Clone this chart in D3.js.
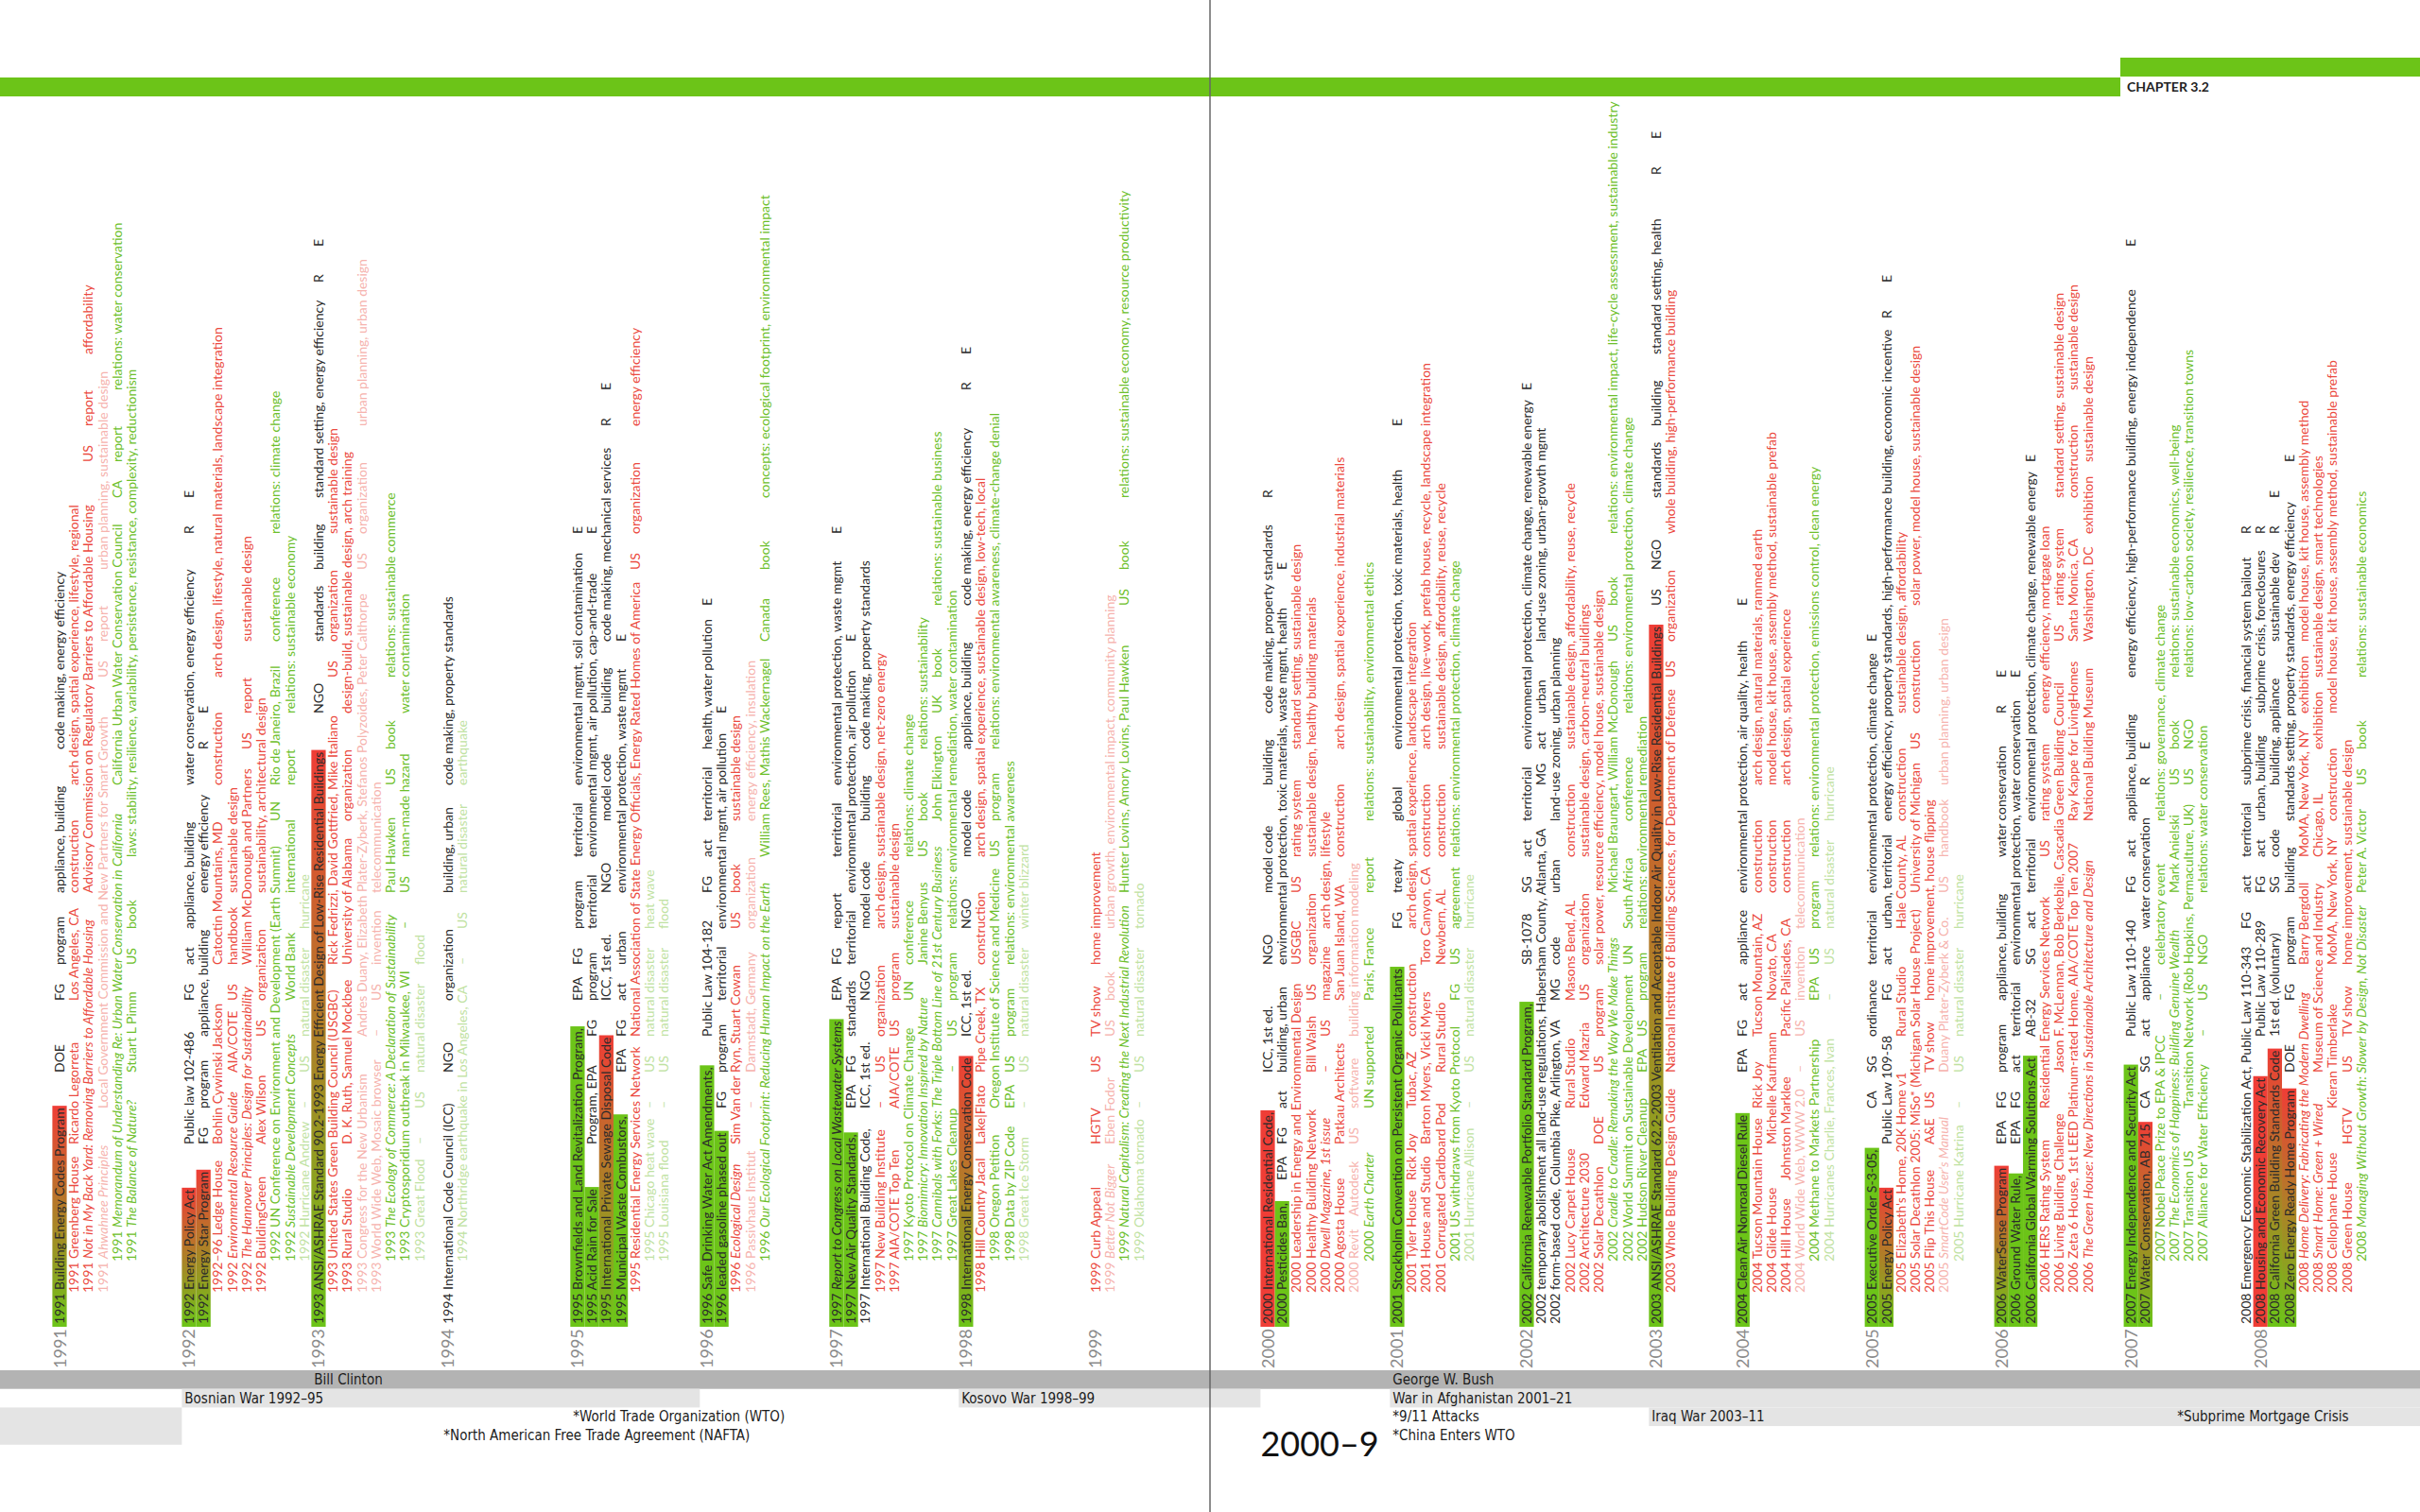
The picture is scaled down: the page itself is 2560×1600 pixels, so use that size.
<!DOCTYPE html>
<html>
<head>
<meta charset="utf-8">
<script src="https://cdn.jsdelivr.net/npm/d3@7"></script>
<style>
  html, body { margin: 0; padding: 0; background: #fff; }
  svg { display: block; }
</style>
</head>
<body>
<div id="chart"></div>
<script>
// ---- data ----
// row code: k = policy (black), r = project (red), p = minor project (pink),
// g = publication/event (green), lg = disaster (light green); bG/bR/bGR = highlighted policy
const y1991 = [
  ["bGR", "1991 Building Energy Codes Program~DOE~FG~program~appliance, building~code making, energy efficiency"],
  ["r", "1991 Greenberg House~Ricardo Legorreta~Los Angeles, CA~construction~arch design, spatial experience, lifestyle, regional"],
  ["r", "1991 Not in My Back Yard: Removing Barriers to Affordable Housing~Advisory Commission on Regulatory Barriers to Affordable Housing~US~report~affordability"],
  ["p", "1991 Ahwahnee Principles~Local Government Commission and New Partners for Smart Growth~US~report~urban planning, sustainable design"],
  ["g", "1991 Memorandum of Understanding Re: Urban Water Conservation in California~California Urban Water Conservation Council~CA~report~relations: water conservation"],
  ["g", "1991 The Balance of Nature?~Stuart L Pimm~US~book~laws: stability, resilience, variability, persistence, resistance, complexity, reductionism"]
];
const y1992 = [
  ["bGR", "1992 Energy Policy Act~Public law 102-486~FG~act~appliance, building~water conservation, energy efficiency~R~E"],
  ["bGR", "1992 Energy Star Program~FG~program~appliance, building~energy efficiency~R~E"],
  ["r", "1992–96 Ledge House~Bohlin Cywinski Jackson~Catoctin Mountains, MD~construction~arch design, lifestyle, natural materials, landscape integration"],
  ["r", "1992 Environmental Resource Guide~AIA/COTE~US~handbook~sustainable design"],
  ["r", "1992 The Hannover Principles: Design for Sustainability~William McDonough and Partners~US~report~sustainable design"],
  ["r", "1992 BuildingGreen~Alex Wilson~US~organization~sustainability, architectural design"],
  ["g", "1992 UN Conference on Environment and Development (Earth Summit)~UN~Rio de Janeiro, Brazil~conference~relations: climate change"],
  ["g", "1992 Sustainable Development Concepts~World Bank~international~report~relations: sustainable economy"],
  ["lg", "1992 Hurricane Andrew~–~US~natural disaster~hurricane"]
];
const y1993 = [
  ["bGR", "1993 ANSI/ASHRAE Standard 90.2-1993 Energy Efficient Design of Low-Rise Residential Buildings~NGO~standards~building~standard setting, energy efficiency~R~E"],
  ["r", "1993 United States Green Building Council (USGBC)~Rick Fedrizzi, David Gottfried, Mike Italiano~US~organization~sustainable design"],
  ["r", "1993 Rural Studio~D. K. Ruth, Samuel Mockbee~University of Alabama~organization~design-build, sustainable design, arch training"],
  ["p", "1993 Congress for the New Urbanism~Andres Duany, Elizabeth Plater-Zyberk, Stefanos Polyzoides, Peter Calthorpe~US~organization~urban planning, urban design"],
  ["p", "1993 World Wide Web, Mosaic browser~–~US~invention~telecommunication"],
  ["g", "1993 The Ecology of Commerce: A Declaration of Sustainability~Paul Hawken~US~book~relations: sustainable commerce"],
  ["g", "1993 Cryptosporidium outbreak in Milwaukee, WI~–~US~man-made hazard~water contamination"],
  ["lg", "1993 Great Flood~–~US~natural disaster~flood"]
];
const y1994 = [
  ["k", "1994 International Code Council (ICC)~NGO~organization~building, urban~code making, property standards"],
  ["lg", "1994 Northridge earthquake in Los Angeles, CA~–~US~natural disaster~earthquake"]
];
const y1995 = [
  ["bG", "1995 Brownfields and Land Revitalization Program,~EPA~FG~program~territorial~environmental mgmt, soil contamination~E"],
  ["bG", "1995 Acid Rain for Sale~Program, EPA~FG~program~territorial~environmental mgmt, air pollution, cap-and-trade~E"],
  ["bGR", "1995 International Private Sewage Disposal Code~ICC, 1st ed.~NGO~model code~building~code making, mechanical services~R~E"],
  ["bG", "1995 Municipal Waste Combustors,~EPA~FG~act~urban~environmental protection, waste mgmt~E"],
  ["r", "1995 Residential Energy Services Network~National Association of State Energy Officials, Energy Rated Homes of America~US~organization~energy efficiency"],
  ["lg", "1995 Chicago heat wave~–~US~natural disaster~heat wave"],
  ["lg", "1995 Louisiana flood~–~US~natural disaster~flood"]
];
const y1996 = [
  ["bG", "1996 Safe Drinking Water Act Amendments,~Public Law 104-182~FG~act~territorial~health, water pollution~E"],
  ["bG", "1996 leaded gasoline phased out~FG~program~territorial~environmental mgmt, air pollution~E"],
  ["r", "1996 Ecological Design~Sim Van der Ryn, Stuart Cowan~US~book~sustainable design"],
  ["p", "1996 Passivhaus Institut~–~Darmstadt, Germany~organization~energy efficiency, insulation"],
  ["g", "1996 Our Ecological Footprint: Reducing Human Impact on the Earth~William Rees, Mathis Wackernagel~Canada~book~concepts: ecological footprint, environmental impact"]
];
const y1997 = [
  ["bG", "1997 Report to Congress on Local Wastewater Systems~EPA~FG~report~territorial~environmental protection, waste mgmt~E"],
  ["bG", "1997 New Air Quality Standards,~EPA~FG~standards~territorial~environmental protection, air pollution~E"],
  ["k", "1997 International Building Code,~ICC, 1st ed.~NGO~model code~building~code making, property standards"],
  ["r", "1997 New Building Institute~–~US~organization~arch design, sustainable design, net-zero energy"],
  ["r", "1997 AIA/COTE Top Ten~AIA/COTE~US~program~sustainable design"],
  ["g", "1997 Kyoto Protocol on Climate Change~UN~conference~relations: climate change"],
  ["g", "1997 Biomimicry: Innovation Inspired by Nature~Janine Benyus~US~book~relations: sustainability"],
  ["g", "1997 Cannibals with Forks: The Triple Bottom Line of 21st Century Business~John Elkington~UK~book~relations: sustainable business"],
  ["g", "1997 Great Lakes Cleanup~–~US~program~relations: environmental remediation, water contamination"]
];
const y1998 = [
  ["bGR", "1998 International Energy Conservation Code~ICC, 1st ed.~NGO~model code~appliance, building~code making, energy efficiency~R~E"],
  ["r", "1998 Hill Country Jacal~Lake|Flato~Pipe Creek, TX~construction~arch design, spatial experience, sustainable design, low-tech, local"],
  ["g", "1998 Oregon Petition~Oregon Institute of Science and Medicine~US~program~relations: environmental awareness, climate-change denial"],
  ["g", "1998 Data by ZIP Code~EPA~US~program~relations: environmental awareness"],
  ["lg", "1998 Great Ice Storm~–~US~natural disaster~winter blizzard"]
];
const y1999 = [
  ["r", "1999 Curb Appeal~HGTV~US~TV show~home improvement"],
  ["p", "1999 Better Not Bigger~Eben Fodor~US~book~urban growth, environmental impact, community planning"],
  ["g", "1999 Natural Capitalism: Creating the Next Industrial Revolution~Hunter Lovins, Amory Lovins, Paul Hawken~US~book~relations: sustainable economy, resource productivity"],
  ["lg", "1999 Oklahoma tornado~–~US~natural disaster~tornado"]
];
const y2000 = [
  ["bR", "2000 International Residential Code,~ICC, 1st ed.~NGO~model code~building~code making, property standards~R"],
  ["bG", "2000 Pesticides Ban,~EPA~FG~act~building, urban~environmental protection, toxic materials, waste mgmt, health~E"],
  ["r", "2000 Leadership in Energy and Environmental Design~USGBC~US~rating system~standard setting, sustainable design"],
  ["r", "2000 Healthy Building Network~Bill Walsh~US~organization~sustainable design, healthy building materials"],
  ["r", "2000 Dwell Magazine, 1st issue~–~US~magazine~arch design, lifestyle"],
  ["r", "2000 Agosta House~Patkau Architects~San Juan Island, WA~construction~arch design, spatial experience, industrial materials"],
  ["p", "2000 Revit~Autodesk~US~software~building information modeling"],
  ["g", "2000 Earth Charter~UN supported~Paris, France~report~relations: sustainability, environmental ethics"]
];
const y2001 = [
  ["bG", "2001 Stockholm Convention on Persistent Organic Pollutants~FG~treaty~global~environmental protection, toxic materials, health~E"],
  ["r", "2001 Tyler House~Rick Joy~Tubac, AZ~construction~arch design, spatial experience, landscape integration"],
  ["r", "2001 House and Studio~Barton Myers, Vicki Myers~Toro Canyon, CA~construction~arch design, live-work, prefab house, recycle, landscape integration"],
  ["r", "2001 Corrugated Cardboard Pod~Rural Studio~Newbern, AL~construction~sustainable design, affordability, reuse, recycle"],
  ["g", "2001 US withdraws from Kyoto Protocol~FG~US~agreement~relations: environmental protection, climate change"],
  ["lg", "2001 Hurricane Allison~–~US~natural disaster~hurricane"]
];
const y2002 = [
  ["bG", "2002 California Renewable Portfolio Standard Program,~SB-1078~SG~act~territorial~environmental protection, climate change, renewable energy~E"],
  ["k", "2002 temporary abolishment all land-use regulations, Habersham County, Atlanta, GA~MG~act~urban~land-use zoning, urban-growth mgmt"],
  ["k", "2002 form-based code, Columbia Pike, Arlington, VA~MG~code~urban~land-use zoning, urban planning"],
  ["r", "2002 Lucy Carpet House~Rural Studio~Masons Bend, AL~construction~sustainable design, affordability, reuse, recycle"],
  ["r", "2002 Architecture 2030~Edward Mazria~US~organization~sustainable design, carbon-neutral buildings"],
  ["r", "2002 Solar Decathlon~DOE~US~program~solar power, resource efficiency, model house, sustainable design"],
  ["g", "2002 Cradle to Cradle: Remaking the Way We Make Things~Michael Braungart, William McDonough~US~book~relations: environmental impact, life-cycle assessment, sustainable industry"],
  ["g", "2002 World Summit on Sustainable Development~UN~South Africa~conference~relations: environmental protection, climate change"],
  ["g", "2002 Hudson River Cleanup~EPA~US~program~relations: environmental remediation"]
];
const y2003 = [
  ["bGR", "2003 ANSI/ASHRAE Standard 62.2-2003 Ventilation and Acceptable Indoor Air Quality in Low-Rise Residential Buildings~US~NGO~standards~building~standard setting, health~R~E"],
  ["r", "2003 Whole Building Design Guide~National Institute of Building Sciences, for Department of Defense~US~organization~whole building, high-performance building"]
];
const y2004 = [
  ["bG", "2004 Clean Air Nonroad Diesel Rule~EPA~FG~act~appliance~environmental protection, air quality, health~E"],
  ["r", "2004 Tucson Mountain House~Rick Joy~Tucson Mountain, AZ~construction~arch design, natural materials, rammed earth"],
  ["r", "2004 Glide House~Michelle Kaufmann~Novato, CA~construction~model house, kit house, assembly method, sustainable prefab"],
  ["r", "2004 Hill House~Johnston Marklee~Pacific Palisades, CA~construction~arch design, spatial experience"],
  ["p", "2004 World Wide Web, WWW 2.0~–~US~invention~telecommunication"],
  ["g", "2004 Methane to Markets Partnership~EPA~US~program~relations: environmental protection, emissions control, clean energy"],
  ["lg", "2004 Hurricanes Charlie, Frances, Ivan~–~US~natural disaster~hurricane"]
];
const y2005 = [
  ["bG", "2005 Executive Order S-3-05,~CA~SG~ordinance~territorial~environmental protection, climate change~E"],
  ["bGR", "2005 Energy Policy Act~Public Law 109-58~FG~act~urban, territorial~energy efficiency, property standards, high-performance building, economic incentive~R~E"],
  ["r", "2005 Elizabeth's Home, 20K Home v1~Rural Studio~Hale County, AL~construction~sustainable design, affordability"],
  ["r", "2005 Solar Decathlon 2005: MiSo* (Michigan Solar House Project)~University of Michigan~US~construction~solar power, model house, sustainable design"],
  ["r", "2005 Flip This House~A&E~US~TV show~home improvement, house flipping"],
  ["p", "2005 SmartCode User's Manual~Duany Plater-Zyberk & Co.~US~handbook~urban planning, urban design"],
  ["lg", "2005 Hurricane Katrina~–~US~natural disaster~hurricane"]
];
const y2006 = [
  ["bGR", "2006 WaterSense Program~EPA~FG~program~appliance, building~water conservation~R~E"],
  ["bG", "2006 Ground Water Rule,~EPA~FG~act~territorial~environmental protection, water conservation~E"],
  ["bG", "2006 California Global Warming Solutions Act~AB-32~SG~act~territorial~environmental protection, climate change, renewable energy~E"],
  ["r", "2006 HERS Rating System~Residential Energy Services Network~US~rating system~energy efficiency, mortgage loan"],
  ["r", "2006 Living Building Challenge~Jason F. McLennan, Bob Berkebile, Cascadia Green Building Council~US~rating system~standard setting, sustainable design"],
  ["r", "2006 Zeta 6 House, 1st LEED Platinum-rated Home, AIA/COTE Top Ten 2007~Ray Kappe for LivingHomes~Santa Monica, CA~construction~sustainable design"],
  ["r", "2006 The Green House: New Directions in Sustainable Architecture and Design~National Building Museum~Washington, DC~exhibition~sustainable design"]
];
const y2007 = [
  ["bG", "2007 Energy Independence and Security Act~Public Law 110-140~FG~act~appliance, building~energy efficiency, high-performance building, energy independence~E"],
  ["bGR", "2007 Water Conservation, AB 715~CA~SG~act~appliance~water conservation~R~E"],
  ["g", "2007 Nobel Peace Prize to EPA & IPCC~–~celebratory event~relations: governance, climate change"],
  ["g", "2007 The Economics of Happiness: Building Genuine Wealth~Mark Anielski~US~book~relations: sustainable economics, well-being"],
  ["g", "2007 Transition US~Transition Network (Rob Hopkins, Permaculture, UK)~US~NGO~relations: low-carbon society, resilience, transition towns"],
  ["g", "2007 Alliance for Water Efficiency~–~US~NGO~relations: water conservation"]
];
const y2008 = [
  ["k", "2008 Emergency Economic Stabilization Act, Public Law 110-343~FG~act~territorial~subprime crisis, financial system bailout~R"],
  ["bR", "2008 Housing and Economic Recovery Act~Public Law 110-289~FG~act~urban, building~subprime crisis, foreclosures~R"],
  ["bGR", "2008 California Green Building Standards Code~1st ed. (voluntary)~SG~code~building, appliance~sustainable dev~R~E"],
  ["bGR", "2008 Zero Energy Ready Home Program~DOE~FG~program~building~standards setting, property standards, energy efficiency~E"],
  ["r", "2008 Home Delivery: Fabricating the Modern Dwelling~Barry Bergdoll~MoMA, New York, NY~exhibition~model house, kit house, assembly method"],
  ["r", "2008 Smart Home: Green + Wired~Museum of Science and Industry~Chicago, IL~exhibition~sustainable design, smart technologies"],
  ["r", "2008 Cellophane House~Kieran Timberlake~MoMA, New York, NY~construction~model house, kit house, assembly method, sustainable prefab"],
  ["r", "2008 Green House~HGTV~US~TV show~home improvement, sustainable design"],
  ["g", "2008 Managing Without Growth: Slower by Design, Not Disaster~Peter A. Victor~US~book~relations: sustainable economics"]
];

const years = d3.range(1991, 2009);
const yearRows = [y1991, y1992, y1993, y1994, y1995, y1996, y1997, y1998, y1999,
                  y2000, y2001, y2002, y2003, y2004, y2005, y2006, y2007, y2008];
// rows of space given to each year group
const groupSlots = [9, 9, 9, 9, 9, 9, 9, 9, 9, 9, 9, 9, 6, 9, 9, 9, 8, 9];

const presidents = [["Bill Clinton", 1993], ["George W. Bush", 2001]];
// label, from, to, band row, rows tall
const conflicts = [
  ["Bosnian War 1992–95", 1992, 1996, 1, 1],
  ["Kosovo War 1998–99", 1998, 2000, 1, 1],
  ["War in Afghanistan 2001–21", 2001, 2009, 1, 1],
  ["Iraq War 2003–11", 2003, 2009, 2, 1],
  ["", 1990, 1992, 2, 2]
];
const notes = [
  ["*World Trade Organization (WTO)", 1995, 2],
  ["*North American Free Trade Agreement (NAFTA)", 1994, 3],
  ["*9/11 Attacks", 2001, 2],
  ["*China Enters WTO", 2001, 3],
  ["*Subprime Mortgage Crisis", 2007.44, 2]
];
const decadeLabel = ["2000–9", 2000];
const chapterLabel = "CHAPTER 3.2";
const italicMedia = new Set(["book", "report", "magazine", "handbook", "exhibition"]);

// ---- layout ----
const W = 2560, H = 1600;
const PITCH = 15.22;
const PAGE_X0 = [63, 1341];
const BASE_Y = 1401, LEVEL = 33, TAB = 38, GAP = 10;
const FONT = "Lato, 'Open Sans', sans-serif";
const NARROW = "'Liberation Sans Narrow', 'DejaVu Sans Condensed', sans-serif";
const GREEN = "#6cc418", RED = "#ef3d36";

const textColor = d3.scaleOrdinal()
  .domain(["k", "r", "p", "g", "lg"])
  .range(["#2b2b2b", "#eb4a40", "#f6b3ae", "#6dbf2b", "#bfe2a2"]);
const levelOf = d3.scaleOrdinal().domain(["k", "r", "p", "g", "lg"]).range([0, 1, 1, 2, 2]);

const svg = d3.select("#chart").append("svg")
  .attr("width", W).attr("height", H)
  .style("font-family", FONT);

const defs = svg.append("defs");
const grad = defs.append("linearGradient").attr("id", "gr")
  .attr("x1", 0).attr("x2", 1).attr("y1", 0).attr("y2", 0);
grad.append("stop").attr("offset", 0).attr("stop-color", GREEN);
grad.append("stop").attr("offset", 1).attr("stop-color", RED);
const barFill = { bG: GREEN, bR: RED, bGR: "url(#gr)" };

// group positions
const groups = [];
let page = -1, off = 0;
years.forEach((yr, i) => {
  const p = yr < 2000 ? 0 : 1;
  if (p !== page) { page = p; off = 0; }
  const xs = d3.scaleLinear().domain([0, 1]).range([PAGE_X0[p], PAGE_X0[p] + PITCH]);
  groups.push({ year: yr, rows: yearRows[i], slots: groupSlots[i], start: off, xs });
  off += groupSlots[i];
});
const groupOf = yr => groups.find(g => g.year === yr);

function timeX(t) {
  const yr = Math.floor(t);
  if (yr < years[0]) return 0;
  if (yr > years[years.length - 1]) return W;
  const g = groupOf(yr);
  return g.xs(g.start) - PITCH / 2 + (t - yr) * g.slots * PITCH;
}

// top header bar
svg.append("rect").attr("x", 0).attr("y", 82).attr("width", 2243).attr("height", 20).attr("fill", GREEN);
svg.append("rect").attr("x", 2243).attr("y", 61).attr("width", W - 2243).attr("height", 20).attr("fill", GREEN);
svg.append("text").attr("x", 2250).attr("y", 97)
  .attr("font-size", 14).attr("font-weight", 700).attr("fill", "#222")
  .text(chapterLabel);

// rows
const rowLayer = svg.append("g");
groups.forEach(g => {
  let labelX = null;
  g.rows.forEach(([code, line], i) => {
    const cx = g.xs(g.start + i);
    const isBar = code.startsWith("b");
    const cat = isBar ? "k" : code;
    if (isBar && labelX === null) labelX = cx;
    const segs = line.split("~");
    const italic = segs.some(s => italicMedia.has(s));
    const row = rowLayer.append("g")
      .attr("transform", `translate(${cx},${BASE_Y}) rotate(-90)`);
    const bar = row.append("rect");
    let pos = levelOf(cat) * LEVEL, titleEnd = 0;
    segs.forEach((s, j) => {
      if (j > 0) pos = Math.ceil((pos + GAP) / TAB) * TAB;
      const t = row.append("text")
        .attr("x", pos).attr("y", 0).attr("dy", "0.36em")
        .attr("font-size", 14)
        .attr("fill", textColor(cat));
      if (j === 0) {
        const m = s.match(/^(\S+)\s(.*)$/);
        t.append("tspan").text(m[1] + " ");
        t.append("tspan").attr("font-style", italic ? "italic" : null).text(m[2]);
      } else {
        t.text(s);
      }
      const w = t.node().getComputedTextLength();
      pos += w;
      if (j === 0) titleEnd = pos;
    });
    if (isBar) {
      bar.attr("x", -3).attr("y", -PITCH / 2)
        .attr("width", titleEnd + 5).attr("height", PITCH)
        .attr("fill", barFill[code]);
    } else bar.remove();
  });
  if (labelX === null) labelX = g.xs(g.start);
  svg.append("text")
    .attr("transform", `translate(${labelX + 6.5},1448) rotate(-90)`)
    .attr("font-size", 18).attr("fill", "#8a8a8a")
    .text(g.year);
});

// bottom bands
const BAND_Y0 = 1450, BAND_H = 19.7;
svg.append("rect").attr("x", 0).attr("y", BAND_Y0).attr("width", W).attr("height", BAND_H).attr("fill", "#b3b3b3");
svg.selectAll(".pres").data(presidents).enter().append("text")
  .attr("x", d => timeX(d[1]) + 3).attr("y", BAND_Y0 + 15)
  .attr("font-family", NARROW).attr("font-size", 15).attr("fill", "#1c1c1c")
  .text(d => d[0]);

svg.selectAll(".war").data(conflicts).enter().append("rect")
  .attr("x", d => timeX(d[1]))
  .attr("y", d => BAND_Y0 + d[3] * BAND_H)
  .attr("width", d => timeX(d[2]) - timeX(d[1]))
  .attr("height", d => d[4] * BAND_H)
  .attr("fill", "#e4e4e4");
svg.selectAll(".warl").data(conflicts).enter().append("text")
  .attr("x", d => timeX(d[1]) + 3)
  .attr("y", d => BAND_Y0 + d[3] * BAND_H + 15)
  .attr("font-family", NARROW).attr("font-size", 15).attr("fill", "#1c1c1c")
  .text(d => d[0]);

svg.selectAll(".note").data(notes).enter().append("text")
  .attr("x", d => timeX(d[1]) + 3)
  .attr("y", d => BAND_Y0 + d[2] * BAND_H + 15)
  .attr("font-family", NARROW).attr("font-size", 15).attr("fill", "#1c1c1c")
  .text(d => d[0]);

svg.append("text")
  .attr("x", timeX(decadeLabel[1])).attr("y", 1541)
  .attr("font-size", 36).attr("fill", "#111")
  .text(decadeLabel[0]);

// page gutter
svg.append("line").attr("x1", W / 2).attr("x2", W / 2).attr("y1", 0).attr("y2", H)
  .attr("stroke", "#666").attr("stroke-width", 1.5);
</script>
</body>
</html>
